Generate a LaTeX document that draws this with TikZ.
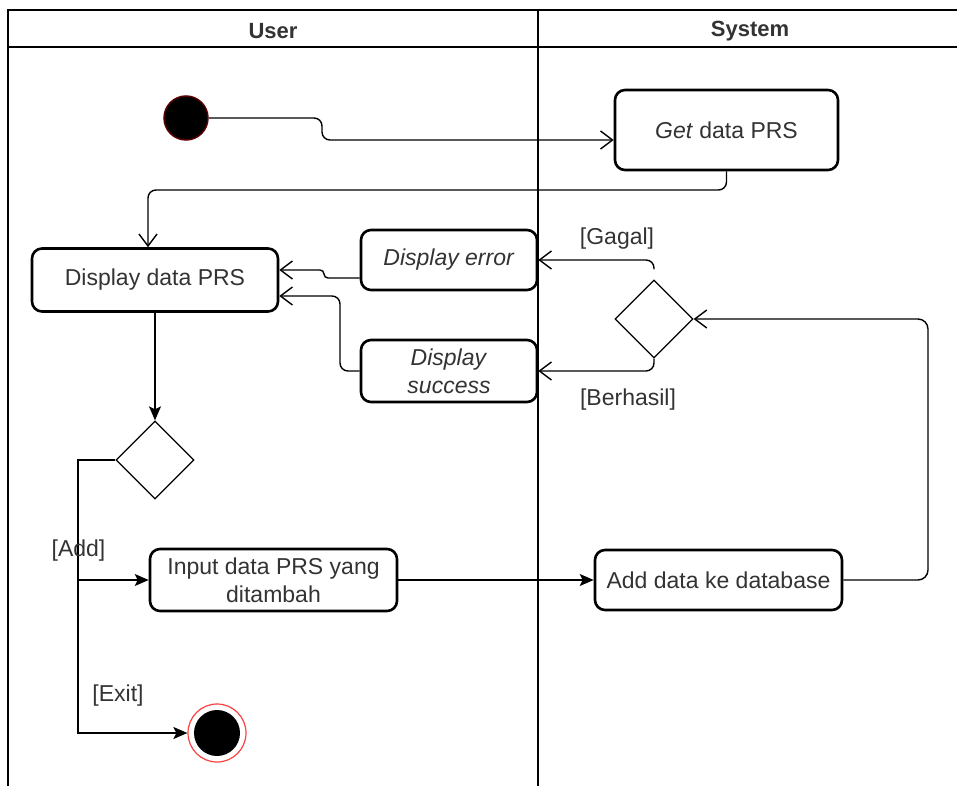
\documentclass[tikz,border=0pt]{standalone}
\usepackage{fontspec}
\setmainfont{Liberation Sans}
\usetikzlibrary{arrows.meta,shapes.geometric}
\definecolor{ink}{HTML}{333333}
\begin{document}
\begin{tikzpicture}[x=1pt,y=-1pt,
  every node/.style={font=\fontsize{23}{28}\selectfont, text=ink},
  act/.style={draw=black, line width=2.6pt, rounded corners=10pt, fill=white,
    align=center, inner sep=0pt},
  dec/.style={draw=black, diamond, line width=1.3pt, inner sep=0pt,
    minimum width=78pt, minimum height=78pt, fill=white},
  flow/.style={draw=black, line width=1.4pt},
  openarr/.style={flow, rounded corners=8pt,
    -{Straight Barb[length=12pt,width=18pt,line width=1.4pt]}},
  fillarr/.style={flow, -{Stealth[length=14pt,width=12pt,inset=3pt]}},
  guard/.style={inner sep=1pt},
  lane/.style={draw=black, line width=1.4pt},
  lanetitle/.style={font=\fontsize{22}{26}\selectfont\bfseries, text=ink}
]
\useasboundingbox (0,0) rectangle (957,786);

% swimlanes
\draw[lane] (957,10) -- (8,10) -- (8,786);
\draw[lane, line width=2pt] (8,47) -- (957,47);
\draw[lane] (538,10) -- (538,786);
\node[lanetitle] (userlane) at (273,31) {User};
\node[lanetitle] (syslane) at (750,31) {System};

% activities
\node[circle, fill=black, draw=red!35!black, line width=1.5pt, minimum size=44pt,
  inner sep=0pt] (init) at (186,118) {};
\node[act, minimum width=223pt, minimum height=80pt] (get) at (726.5,130) {\textit{Get} data PRS};
\node[act, minimum width=246pt, minimum height=63pt] (disp) at (155,280) {Display data PRS};
\node[act, minimum width=176pt, minimum height=60pt] (err) at (449,260) {\textit{Display error}};
\node[act, minimum width=176pt, minimum height=62pt] (succ) at (449,371) {\textit{Display}\\\textit{success}};
\node[dec] (sdec) at (654,319) {};
\node[dec] (udec) at (155,460) {};
\node[act, minimum width=247pt, minimum height=62pt] (input) at (273.5,580) {Input data PRS yang\\ditambah};
\node[act, minimum width=247pt, minimum height=60pt] (adddb) at (718.5,580) {Add data ke database};
\node[circle, draw=red!75, line width=1.2pt, fill=white, minimum size=58pt,
  inner sep=0pt] (final) at (217,733) {};
\fill[black] (final.center) circle (23pt);

% control flow
\draw[openarr] (init.east) -- (322,118) -- (322,140) -- ([yshift=-10pt]get.west);
\draw[openarr] (get.south) -- (726.5,190) -- (148,190) -- ([xshift=-7pt]disp.north);
\draw[openarr, rounded corners=4pt] ([yshift=-18pt]err.west) -- (324,278) -- (324,270) -- ([yshift=10pt]disp.east);
\draw[openarr] (succ.west) -- (340,371) -- (340,296) -- ([yshift=-16pt]disp.east);
\draw[openarr, shorten <=10pt] (sdec.north) -- (654,260) -- (err.east);
\draw[openarr] (sdec.south) -- (654,371) -- (succ.east);
\node[guard] (gagal) at (617,239) {[Gagal]};
\node[guard] (berhasil) at (628,400) {[Berhasil]};

\draw[fillarr] (disp.south) -- (udec.north);
\coordinate (addsplit) at (78,580);
\draw[fillarr] (udec.west) -- (78,460) -- (78,733) -- (final.west);
\draw[fillarr] (addsplit) -- (input.west);
\node[guard] (addlbl) at (78.5,551) {[Add]};
\node[guard] (exitlbl) at (118,696) {[Exit]};

\draw[fillarr] (input.east) -- (adddb.west);
\draw[openarr, rounded corners=10pt] (adddb.east) -- (928,580) -- (928,319) -- (sdec.east);
\end{tikzpicture}
\end{document}
